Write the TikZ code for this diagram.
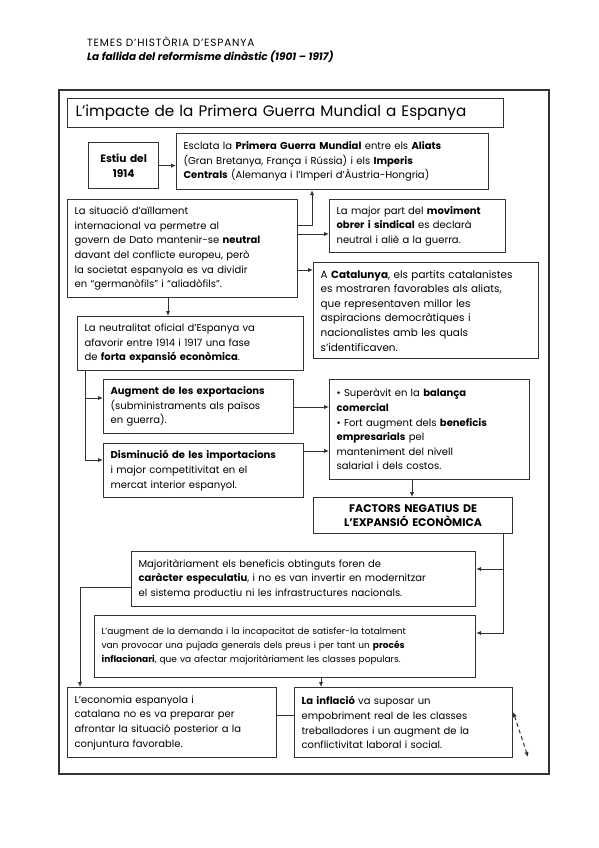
\documentclass[tikz,border=0pt]{standalone}
\usepackage{fontspec}
\setmainfont{Poppins}
\usetikzlibrary{arrows.meta,calc}
\definecolor{ink}{HTML}{333333}
\tikzset{
  box/.style={draw=ink, line width=1.2pt, rectangle, anchor=north west, inner xsep=7pt, inner ysep=3pt,
     align=left, font=\fontsize{10}{14.6}\selectfont, text=black},
  arr/.style={draw=ink, line width=1pt, -{Latex[length=5pt,width=4.5pt]}},
  link/.style={draw=ink, line width=1pt},
  darr/.style={draw=ink, line width=1pt, dashed, dash pattern=on 4pt off 3pt, {Latex[length=5pt,width=4.5pt]}-{Latex[length=5pt,width=4.5pt]}}
}
\begin{document}
\begin{tikzpicture}[x=1pt,y=-1pt]
\useasboundingbox (0,0) rectangle (599,848);
% header
\node[anchor=north west, inner sep=0pt, align=left, font=\fontsize{10.5}{13.5}\selectfont] (hdr) at (87,37)
  {{\addfontfeature{LetterSpace=8}TEMES D’HISTÒRIA D’ESPANYA}\\ \textbf{\textit{La fallida del reformisme dinàstic (1901 – 1917)}}};
% outer frame
\node[draw=ink, line width=1.6pt, anchor=north west, minimum width=490pt, minimum height=684pt, inner sep=0pt] (frame) at (58,89) {};
% title
\node[box, minimum width=436pt, minimum height=29pt, text width=420pt, inner xsep=8pt, font=\fontsize{15.2}{17}\selectfont] (title) at (67,98)
  {L’impacte de la Primera Guerra Mundial a Espanya};
% boxes
\node[box, minimum width=70pt, minimum height=46pt, text width=60pt, align=center, inner xsep=5pt, font=\fontsize{10.6}{15}\selectfont] (estiu) at (88,142)
  {\textbf{Estiu del}\\ \textbf{1914}};
\node[box, minimum width=312pt, minimum height=56pt, text width=298pt] (esc) at (176,133)
  {Esclata la \textbf{Primera Guerra Mundial} entre els \textbf{Aliats}\\ (Gran Bretanya, França i Rússia) i els \textbf{Imperis}\\ \textbf{Centrals} (Alemanya i l’Imperi d’Àustria-Hongria)};
\node[box, minimum width=230pt, minimum height=98pt, text width=216pt] (sit) at (67,199)
  {La situació d’aïllament\\ internacional va permetre al\\ \mbox{govern de Dato mantenir-se \textbf{neutral}}\\ davant del conflicte europeu, però\\ la societat espanyola es va dividir\\ en “germanòfils” i “aliadòfils”.};
\node[box, minimum width=176pt, minimum height=53pt, text width=162pt] (mov) at (329,199)
  {La major part del \textbf{moviment}\\ \textbf{obrer i sindical} es declarà\\ neutral i aliè a la guerra.};
\node[box, minimum width=225pt, minimum height=96pt, text width=211pt, font=\fontsize{10.4}{14.6}\selectfont] (cat) at (313,262)
  {\mbox{A \textbf{Catalunya}, els partits catalanistes}\\ es mostraren favorables als aliats,\\ que representaven millor les\\ aspiracions democràtiques i\\ nacionalistes amb les quals\\ s’identificaven.};
\node[box, minimum width=226pt, minimum height=54pt, text width=212pt] (neu) at (77,316)
  {La neutralitat oficial d’Espanya va\\ afavorir entre 1914 i 1917 una fase\\ de \textbf{forta expansió econòmica}.};
\node[box, minimum width=190pt, minimum height=54pt, text width=176pt] (aug) at (103,379)
  {\mbox{\textbf{Augment de les exportacions}}\\ (subministraments als països\\ en guerra).};
\node[box, minimum width=200pt, minimum height=100pt, text width=186pt] (sup) at (329,379)
  {{\hangindent=10pt\hangafter=1 \textbullet\ Superàvit en la \textbf{balança}\\ \textbf{comercial}\par}
   {\hangindent=10pt\hangafter=1 \textbullet\ Fort augment dels \textbf{beneficis}\\ \textbf{empresarials} pel\\ manteniment del nivell\\ salarial i dels costos.\par}};
\node[box, minimum width=200pt, minimum height=54pt, text width=186pt] (dis) at (103,443)
  {\mbox{\textbf{Disminució de les importacions}}\\ i major competitivitat en el\\ mercat interior espanyol.};
\node[box, minimum width=199pt, minimum height=36pt, text width=185pt, align=center, font=\fontsize{11}{14.5}\selectfont] (fac) at (313,497)
  {\textbf{FACTORS NEGATIUS DE}\\ \textbf{L’EXPANSIÓ ECONÒMICA}};
\node[box, minimum width=344pt, minimum height=55pt, text width=330pt] (maj) at (131,551)
  {Majoritàriament els beneficis obtinguts foren de\\ \textbf{caràcter especulatiu}, i no es van invertir en modernitzar\\ el sistema productiu ni les infrastructures nacionals.};
\node[box, minimum width=381pt, minimum height=62pt, text width=367pt, font=\fontsize{9}{14}\selectfont] (dem) at (94,615)
  {\mbox{L’augment de la demanda i la incapacitat de satisfer-la totalment}\\ \mbox{van provocar una pujada generals dels preus i per tant un \textbf{procés}}\\ \mbox{\textbf{inflacionari}, que va afectar majoritàriament les classes populars.}\\[6pt]};
\node[box, minimum width=209pt, minimum height=70pt, text width=195pt] (eco) at (67,687)
  {L’economia espanyola i\\ catalana no es va preparar per\\ \mbox{afrontar la situació posterior a la}\\ conjuntura favorable.};
\node[box, minimum width=218pt, minimum height=70pt, text width=204pt] (inf) at (294,687)
  {\textbf{La inflació} va suposar un\\ empobriment real de les classes\\ \mbox{treballadores i un augment de la}\\ conflictivitat laboral i social.};
% connectors
\draw[arr] (estiu.east) -- (esc.west |- estiu.east);
\draw[arr] ([yshift=-26pt]sit.north east) -| ([xshift=136pt]esc.south west);
\draw[arr] ([yshift=-35pt]sit.north east) -- ([yshift=-35pt]mov.north west);
\draw[arr] ([yshift=-71pt]sit.north east) -- ([yshift=-8pt]cat.north west);
\draw[arr] ([xshift=101pt]sit.south west) -- ([xshift=91pt]neu.north west);
\coordinate (nb) at ([xshift=8pt]neu.south west);
\draw[arr] (nb) |- ([yshift=-19pt]aug.north west);
\draw[arr] (nb) |- ([yshift=-17pt]dis.north west);
\draw[arr] ([yshift=-28pt]aug.north east) -- ([yshift=-28pt]sup.north west);
\draw[arr] ([yshift=-8pt]dis.north east) -- ([yshift=-72pt]sup.north west);
\draw[arr] ([xshift=83pt]sup.south west) -- ([xshift=99pt]fac.north west);
\coordinate (fb) at ([xshift=-10pt]fac.south east);
\draw[arr] (fb) |- ([yshift=-18pt]maj.north east);
\draw[arr] (fb) |- ([yshift=-18pt]dem.north east);
\draw[arr] ([yshift=-36pt]maj.north west) -| ([xshift=13pt]eco.north west);
\draw[arr] ([xshift=227pt]dem.south west) -- ([xshift=27pt]inf.north west);
\draw[link] ([yshift=-28pt]eco.north east) -- ([yshift=-28pt]inf.north west);
\coordinate (dend) at (528,757);
\draw[darr] ([yshift=-25pt]inf.north east) -- (dend);
\end{tikzpicture}
\end{document}
